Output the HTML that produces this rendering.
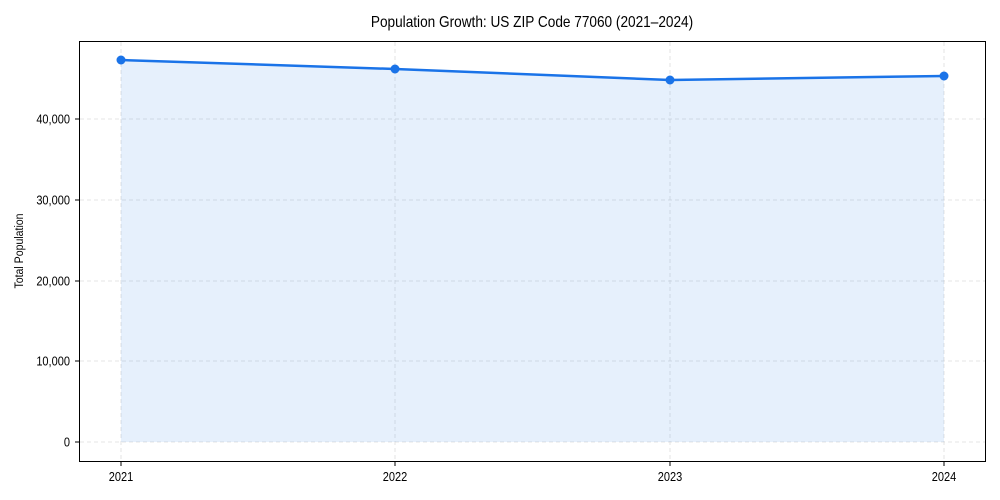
<!DOCTYPE html>
<html><head><style>body{margin:0;background:#fff}svg{display:block;font-family:"Liberation Sans",sans-serif}</style></head>
<body>
<svg width="1000" height="500" viewBox="0 0 1000 500">
<rect width="1000" height="500" fill="#fff"/>
<g stroke="#ddd" stroke-width="0.8" stroke-dasharray="4,3">
<line x1="80" x2="985" y1="442" y2="442"/><line x1="80" x2="985" y1="361" y2="361"/><line x1="80" x2="985" y1="281" y2="281"/><line x1="80" x2="985" y1="200" y2="200"/><line x1="80" x2="985" y1="119" y2="119"/>
<line x1="121" x2="121" y1="42" y2="461"/><line x1="395" x2="395" y1="42" y2="461"/><line x1="670" x2="670" y1="42" y2="461"/><line x1="944" x2="944" y1="42" y2="461"/>
</g>
<polygon points="121,60 395,69 670,80 944,76 944,442 121,442" fill="#1a73e8" fill-opacity="0.11"/>
<polyline points="121,60 395,69 670,80 944,76" fill="none" stroke="#1a73e8" stroke-width="2.5"/>
<g fill="#1a73e8"><circle cx="121" cy="60" r="4.5"/><circle cx="395" cy="69" r="4.5"/><circle cx="670" cy="80" r="4.5"/><circle cx="944" cy="76" r="4.5"/></g>
<rect x="79.5" y="41.5" width="906" height="420" fill="none" stroke="#000" stroke-width="1"/>
<g stroke="#000"><line x1="75" x2="79" y1="442" y2="442"/><line x1="75" x2="79" y1="361" y2="361"/><line x1="75" x2="79" y1="281" y2="281"/><line x1="75" x2="79" y1="200" y2="200"/><line x1="75" x2="79" y1="119" y2="119"/>
<line x1="121" x2="121" y1="462" y2="466"/><line x1="395" x2="395" y1="462" y2="466"/><line x1="670" x2="670" y1="462" y2="466"/><line x1="944" x2="944" y1="462" y2="466"/></g>
<g font-size="12.5" text-anchor="end" fill="#000" transform="scale(0.88,1)">
<text x="79.5" y="446.5">0</text><text x="79.5" y="365.5">10,000</text><text x="79.5" y="285.5">20,000</text><text x="79.5" y="204.5">30,000</text><text x="79.5" y="123.5">40,000</text></g>
<g font-size="12.5" text-anchor="middle" transform="scale(0.88,1)">
<text x="137.5" y="481">2021</text><text x="448.9" y="481">2022</text><text x="761.4" y="481">2023</text><text x="1072.7" y="481">2024</text></g>
<text transform="translate(23,251) rotate(-90) scale(0.88,1)" font-size="12" text-anchor="middle">Total Population</text>
<text transform="translate(532,27) scale(0.88,1)" font-size="15.5" text-anchor="middle">Population Growth: US ZIP Code 77060 (2021–2024)</text>
</svg>
</body></html>
